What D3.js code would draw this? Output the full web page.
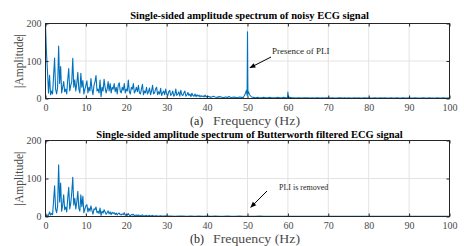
<!DOCTYPE html>
<html>
<head>
<meta charset="utf-8">
<script src="https://cdn.jsdelivr.net/npm/d3@7/dist/d3.min.js"></script>
<style>
  html, body { margin: 0; padding: 0; background: #fff; }
  svg { display: block; }
  text { font-family: "Liberation Serif", "Times New Roman", serif; }
</style>
</head>
<body>
<svg id="chart" width="464" height="246"></svg>
<script>
// ---------------- DATA ----------------
// Noisy ECG spectrum, 0–40 Hz sampled every 0.25 Hz
const noisyLowStart = 0, noisyLowStep = 0.25;
const noisyLow = [
  195,120,70,15,62,10,20,12,
  60,108,25,12,30,140,40,85,
  15,30,45,18,25,12,50,80,
  20,35,45,107,30,50,20,40,
  70,25,15,67,30,48,12,25,
  35,47,15,30,20,53,25,10,
  35,45,61,20,25,15,49,5,
  30,20,51,30,15,25,45,20,
  40,15,30,25,40,18,30,12,
  35,42,20,15,30,22,40,15,
  25,20,49,18,12,30,25,40,
  15,20,30,18,35,15,12,25,
  38,10,20,15,30,12,18,28,
  10,20,35,12,15,25,30,10,
  18,12,27,8,15,20,10,25,
  12,8,18,22,8,12,20,6,
  10,25,8,12,18,6,22,10,
  8,15,20,6,10,16,8,12,
  5,14,8,6,12,5,10,6,
  9,4,8,5,7,4,9,4,
  6
];
// Noisy ECG spectrum, 40.5–100 Hz sampled every 0.5 Hz
const noisyHighStart = 40.5, noisyHighStep = 0.5;
const noisyHigh = [
  5,3,6,4,3,5,4,2,4,3,5,2,4,3,2,4,3,3,
  14,12,10,4,
  3,2,3,2,2,3,2,2,3,2,2,2,3,2,2,3,2,
  3,3,
  2,2,1,2,2,1,2,2,2,1, 2,1,2,2,1,2,1,2,2,1, 2,1,1,2,2,1,2,1,2,1,
  1,2,1,2,1,1,2,1,2,1, 1,2,1,1,2,1,2,1,1,2, 1,1,2,1,1,2,1,1,2,1,
  1,2,1,1,1,2,1,1,2,1, 1,1,2,1,1,2,1,1,2
];
// Narrow lines: power-line interference at 50 Hz and a small line at 60 Hz
const lineFreqs = [49.75, 49.9, 50.0, 50.1, 50.25, 59.9, 60.0, 60.1];
const lineAmps  = [22,    8,    178,  12,   18,    2,    17,   3];

// Butterworth filtered spectrum, 0–30 Hz every 0.25 Hz
const filtLowStart = 0, filtLowStep = 0.25;
const filtLow = [
  0,2,4,3,12,4,8,5,
  40,81,20,10,28,136,38,88,
  14,30,57,18,25,12,48,77,
  20,35,63,103,30,48,20,38,
  66,22,14,57,26,53,10,20,
  28,31,12,22,14,28,16,6,
  20,18,25,10,14,8,22,3,
  14,9,18,12,6,10,15,7,
  12,5,11,8,10,5,9,4,
  8,9,5,4,7,5,10,3,
  5,4,8,3,2,5,4,6,
  2,3,4,2,4,2,2,3,
  4,1,2,2,3,1,2,3,
  1,2,3,1,1,2,2,1,
  1,1,2,1,1,1,1,2,
  1
];
// Butterworth filtered spectrum, 31–100 Hz every 1 Hz
const filtHighStart = 31, filtHighStep = 1;
const filtHigh = [
  1,0.5,1,1,0.5,1,0.5,1,0.5,1,
  0.5,1,0.5,0.5,1,0.5,0.5,1,0.5,0.5,
  0.5,0.5,1,0.5,0.5,0.5,0.5,0.5,0.5,0.5,
  0.5,0.5,0.5,0.5,0.5,0.5,0.5,0.5,0.5,0.5,
  0.5,0.5,0.5,0.5,0.5,0.5,0.5,0.5,0.5,0.5,
  0.5,0.5,0.5,0.5,0.5,0.5,0.5,0.5,0.5,0.5,
  0.5,0.5,0.5,0.5,0.5,0.5,0.5,0.5,0.5,0.5
];

const xTicks = [0,10,20,30,40,50,60,70,80,90,100];
const yTicks = [0,100,200];
const titles = [
  "Single-sided amplitude spectrum of noisy ECG signal",
  "Single-sided amplitude spectrum of Butterworth filtered ECG signal"
];
const panelTags = ["(a)", "(b)"];
const xLabel = "Frequency (Hz)";
const yLabel = "|Amplitude|";
const notes = ["Presence of PLI", "PLI is removed"];
const noteTarget = [[50.6, 82], [50.8, 24]]; // (Hz, amplitude) the arrow tip points at

// --------------- HELPERS ---------------
function toPoints(start, step, arr) {
  return arr.map((v, i) => ({ f: +(start + i * step).toFixed(4), a: v }));
}
function mergeLines(pts, fs, as) {
  const m = new Map(pts.map(p => [p.f, p.a]));
  fs.forEach((f, i) => m.set(f, as[i]));
  return Array.from(m, ([f, a]) => ({ f, a })).sort((p, q) => p.f - q.f);
}
const noisy = mergeLines(
  toPoints(noisyLowStart, noisyLowStep, noisyLow)
    .concat(toPoints(noisyHighStart, noisyHighStep, noisyHigh)),
  lineFreqs, lineAmps);
const filt = toPoints(filtLowStart, filtLowStep, filtLow)
  .concat(toPoints(filtHighStart, filtHighStep, filtHigh));

// --------------- DRAW ---------------
const svg = d3.select("#chart");
svg.append("rect").attr("width", 464).attr("height", 246).attr("fill", "#fff");

const defs = svg.append("defs");
defs.append("marker")
  .attr("id", "arrow").attr("viewBox", "0 0 10 10")
  .attr("refX", 9).attr("refY", 5)
  .attr("markerWidth", 7).attr("markerHeight", 6)
  .attr("markerUnits", "userSpaceOnUse")
  .attr("orient", "auto")
  .append("path").attr("d", "M0,1 L10,5 L0,9 Z").attr("fill", "#000");

const left = 45.5, right = 449.5;
const panels = [
  { top: 23.5, bottom: 98.5, data: noisy, titleY: 19, labelY: 124.5,
    textX: 272, textY: 54, fs: 9, arrowFrom: [271, 57] },
  { top: 140.5, bottom: 216.5, data: filt, titleY: 137.5, labelY: 243,
    textX: 279, textY: 189.5, fs: 8, arrowFrom: [267, 191] }
];

const x = d3.scaleLinear().domain([0, 100]).range([left, right]);

panels.forEach((p, k) => {
  const y = d3.scaleLinear().domain([0, 200]).range([p.bottom, p.top]);
  const g = svg.append("g");

  // grid
  g.selectAll(".gx").data(xTicks.slice(1, -1)).enter().append("line")
    .attr("x1", d => x(d)).attr("x2", d => x(d))
    .attr("y1", p.top).attr("y2", p.bottom)
    .attr("stroke", "#e3e3e3").attr("stroke-width", 1);
  g.selectAll(".gy").data(yTicks.slice(1, -1)).enter().append("line")
    .attr("x1", left).attr("x2", right)
    .attr("y1", d => y(d)).attr("y2", d => y(d))
    .attr("stroke", "#e3e3e3").attr("stroke-width", 1);

  // clip
  const cid = "clip" + k;
  defs.append("clipPath").attr("id", cid).append("rect")
    .attr("x", left).attr("y", p.top - 1).attr("width", right - left).attr("height", p.bottom - p.top + 1);

  // line
  const line = d3.line().x(d => x(d.f)).y(d => y(d.a));
  g.append("path").datum(p.data)
    .attr("clip-path", `url(#${cid})`)
    .attr("d", line)
    .attr("fill", "none").attr("stroke", "#0072BD")
    .attr("stroke-width", 1.1).attr("stroke-linejoin", "round");

  // axes (MATLAB style, inward ticks)
  const ax = d3.axisBottom(x).tickValues(xTicks).tickSizeInner(-3).tickSizeOuter(0).tickPadding(5.5);
  const axG = g.append("g").attr("transform", `translate(0,${p.bottom})`).call(ax);
  const axT = g.append("g").attr("transform", `translate(0,${p.top})`)
    .call(d3.axisTop(x).tickValues(xTicks).tickSizeInner(-3).tickSizeOuter(0).tickFormat(""));
  const ay = d3.axisLeft(y).tickValues(yTicks).tickSizeInner(-3).tickSizeOuter(0).tickPadding(4);
  const ayG = g.append("g").attr("transform", `translate(${left},0)`).call(ay);
  const ayR = g.append("g").attr("transform", `translate(${right},0)`)
    .call(d3.axisRight(y).tickValues(yTicks).tickSizeInner(-3).tickSizeOuter(0).tickFormat(""));
  [axG, axT, ayG, ayR].forEach(a => {
    a.select(".domain").remove();
    a.selectAll(".tick line").attr("stroke", "#262626");
    a.selectAll("text").attr("fill", "#4a4a4a")
      .style("font-family", "'Liberation Serif', serif").style("font-size", "10px");
  });

  // frame
  g.append("rect").attr("x", left).attr("y", p.top)
    .attr("width", right - left).attr("height", p.bottom - p.top)
    .attr("fill", "none").attr("stroke", "#262626").attr("stroke-width", 1);

  // title
  g.append("text").attr("x", (left + right) / 2 + 2).attr("y", p.titleY)
    .attr("text-anchor", "middle").attr("font-weight", "bold")
    .style("font-size", "10.5px").attr("fill", "#000")
    .text(titles[k]);

  // x label
  g.append("text").attr("x", 190).attr("y", p.labelY)
    .style("font-size", "12px").attr("fill", "#262626").text(panelTags[k]);
  g.append("text").attr("x", 213).attr("y", p.labelY)
    .attr("textLength", 87).attr("lengthAdjust", "spacingAndGlyphs")
    .style("font-size", "12px").attr("fill", "#4a4a4a").text(xLabel);

  // y label
  g.append("text")
    .attr("transform", `translate(23,${(p.top + p.bottom) / 2}) rotate(-90)`)
    .attr("text-anchor", "middle")
    .style("font-size", "11.5px").attr("fill", "#4a4a4a").text(yLabel);

  // annotation
  g.append("text").attr("x", p.textX).attr("y", p.textY)
    .style("font-size", p.fs + "px").attr("fill", "#262626")
    .text(notes[k]);
  const tgt = noteTarget[k];
  g.append("line")
    .attr("x1", p.arrowFrom[0]).attr("y1", p.arrowFrom[1])
    .attr("x2", x(tgt[0])).attr("y2", y(tgt[1]))
    .attr("stroke", "#000").attr("stroke-width", 1)
    .attr("marker-end", "url(#arrow)");
});
</script>
</body>
</html>
